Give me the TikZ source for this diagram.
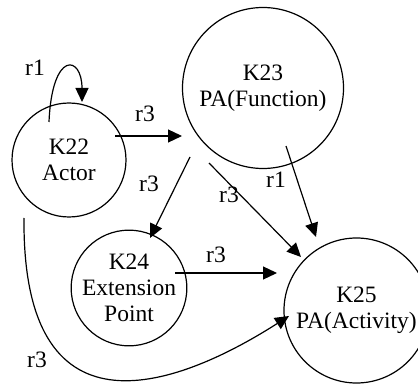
\documentclass[tikz,border=0pt]{standalone}
\usepackage{fontspec}
\setmainfont{Liberation Serif}
\usetikzlibrary{arrows.meta}
\begin{document}
\begin{tikzpicture}[x=1pt,y=-1pt,
  every node/.style={font=\fontsize{23.5}{26}\selectfont},
  state/.style={draw,circle,line width=1.2pt,inner sep=0pt,align=center},
  arr/.style={line width=1.2pt,-{Triangle[length=14pt,width=13pt]}},
  lbl/.style={inner sep=0pt}]
\useasboundingbox (0,0) rectangle (418,385);
\node[state,minimum size=114pt] (k22) at (69,160) {K22\\Actor};
\node[state,minimum size=161pt] (k23) at (263,88) {K23\\PA(Function)};
\node[state,minimum size=110pt] (k24) at (129,288) {K24\\Extension\\Point};
\node[state,minimum size=145pt] (k25) at (356.5,310.5) {K25\\PA(Activity)};
% connector ends
\coordinate (l0) at (49,122);  \coordinate (l1) at (82,102);
\coordinate (a0) at (115,136); \coordinate (a1) at (182,136);
\coordinate (b0) at (190,157); \coordinate (b1) at (150,238);
\coordinate (c0) at (209,163); \coordinate (c1) at (301,257);
\coordinate (d0) at (286,146); \coordinate (d1) at (316,237);
\coordinate (e0) at (175,273); \coordinate (e1) at (277,273);
\coordinate (f0) at (24,218);  \coordinate (f1) at (289,316);
\draw[arr] (l0) .. controls (52,50) and (82,55) .. (l1);
\draw[arr] (a0) -- (a1);
\draw[arr] (b0) -- (b1);
\draw[arr] (c0) -- (c1);
\draw[arr] (d0) -- (d1);
\draw[arr] (e0) -- (e1);
\draw[arr] (f0) .. controls (22,440) and (170,392) .. (f1);
% labels
\node[lbl] (t1) at (35,68) {r1};
\node[lbl] (t2) at (145,114) {r3};
\node[lbl] (t3) at (149,184) {r3};
\node[lbl] (t4) at (229,195) {r3};
\node[lbl] (t5) at (276,180) {r1};
\node[lbl] (t6) at (216,255) {r3};
\node[lbl] (t7) at (37,360) {r3};
\end{tikzpicture}
\end{document}
